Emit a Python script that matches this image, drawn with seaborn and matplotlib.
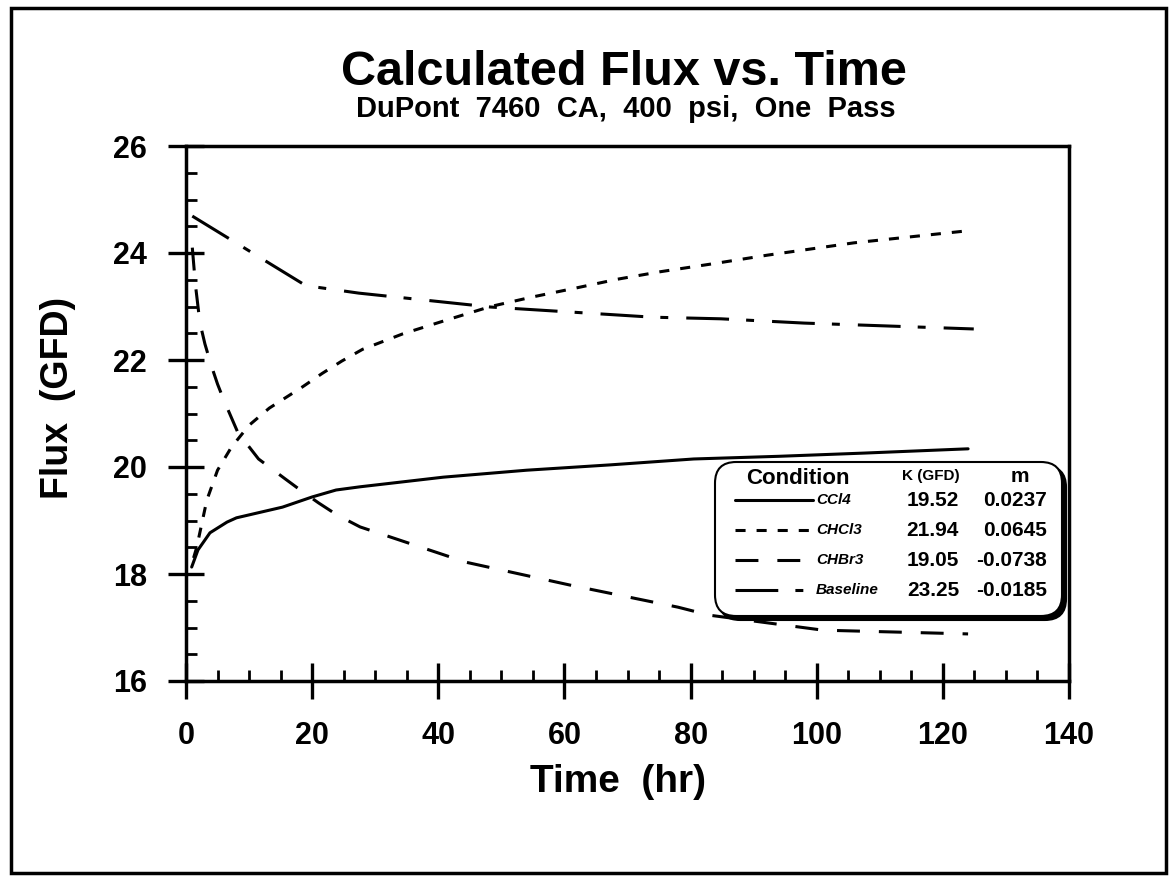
import numpy as np
import pandas as pd
import matplotlib.pyplot as plt
import seaborn as sns
from matplotlib.patches import FancyBboxPatch, Rectangle
from matplotlib.lines import Line2D
from matplotlib.ticker import MultipleLocator

# ===== data =====
conditions = ["CCl4", "CHCl3", "CHBr3", "Baseline"]
k_values = ["19.52", "21.94", "19.05", "23.25"]
m_values = ["0.0237", "0.0645", "-0.0738", "-0.0185"]

t_ccl4 = [0.9, 1.9, 3.8, 6.5, 8.0, 15.3, 20.0, 23.8, 27.6, 40.8, 54.0, 67.3, 80.5, 94.0, 107.5, 124.0]
f_ccl4 = [18.13, 18.45, 18.77, 18.97, 19.05, 19.25, 19.44, 19.57, 19.63, 19.81, 19.94, 20.04, 20.15, 20.2, 20.26, 20.34]

t_chcl3 = [1.2, 1.7, 3.3, 5.0, 7.2, 10.0, 13.2, 18.5, 21.6, 24.7, 28.0, 34.4, 41.4, 48.3,
           55.0, 62.0, 68.4, 75.2, 83.6, 92.2, 105.9, 123.5]
f_chcl3 = [18.3, 18.5, 19.38, 19.94, 20.37, 20.78, 21.1, 21.5, 21.75, 21.98, 22.2, 22.49, 22.75, 23.0,
           23.18, 23.35, 23.51, 23.65, 23.8, 23.96, 24.19, 24.41]

t_chbr3 = [1.0, 1.5, 2.0, 2.5, 3.0, 4.0, 5.0, 6.0, 8.2, 11.5, 15.7, 18.0, 21.0, 24.0, 27.6,
           44.4, 61.0, 78.0, 83.0, 101.0, 124.0]
f_chbr3 = [24.1, 23.4, 22.9, 22.55, 22.3, 21.9, 21.55, 21.25, 20.65, 20.15, 19.78, 19.58, 19.33, 19.1, 18.88,
           18.22, 17.79, 17.38, 17.23, 16.95, 16.88]

t_base = [1.0, 19.0, 27.4, 48.3, 60.5, 74.0, 84.8, 98.0, 124.9]
f_base = [24.69, 23.39, 23.25, 22.99, 22.9, 22.8, 22.77, 22.69, 22.58]

df = pd.concat([
    pd.DataFrame({"Time": t_ccl4, "Flux": f_ccl4, "Condition": "CCl4"}),
    pd.DataFrame({"Time": t_chcl3, "Flux": f_chcl3, "Condition": "CHCl3"}),
    pd.DataFrame({"Time": t_chbr3, "Flux": f_chbr3, "Condition": "CHBr3"}),
    pd.DataFrame({"Time": t_base, "Flux": f_base, "Condition": "Baseline"}),
], ignore_index=True)

# line styles (in linewidth units)
dash_map = {"CCl4": "", "CHCl3": (3.3, 3.6), "CHBr3": (7.5, 6.2), "Baseline": (14, 5.6, 2.6, 5.9)}
LW = 2.2

sns.set_theme(style="ticks")
plt.rcParams['font.family'] = ['Liberation Sans', 'DejaVu Sans']
plt.rcParams['font.weight'] = 'bold'
plt.rcParams['text.color'] = 'black'
plt.rcParams['xtick.color'] = 'black'
plt.rcParams['ytick.color'] = 'black'

W, H = 1174, 882
fig = plt.figure(figsize=(W / 100, H / 100), dpi=100)
ax = fig.add_axes([186 / W, 1 - 681 / H, 883 / W, 535 / H])

sns.lineplot(data=df, x="Time", y="Flux", hue="Condition", style="Condition",
             palette={c: "black" for c in conditions}, dashes=dash_map,
             estimator=None, sort=False, legend=False, linewidth=LW, ax=ax)

ax.set_xlim(0, 140)
ax.set_ylim(16, 26)
ax.xaxis.set_major_locator(MultipleLocator(20))
ax.xaxis.set_minor_locator(MultipleLocator(5))
ax.yaxis.set_major_locator(MultipleLocator(2))
ax.yaxis.set_minor_locator(MultipleLocator(0.5))
ax.set_xlabel("")
ax.set_ylabel("")
for s in ax.spines.values():
    s.set_linewidth(2.5)
    s.set_color("black")
ax.tick_params(which="major", direction="inout", length=26, width=2.4, labelsize=22)
ax.tick_params(which="minor", direction="in", length=8, width=2)
ax.tick_params(axis="x", which="major", pad=16)
ax.tick_params(axis="y", which="major", pad=15)

# ===== titles and axis labels =====
fig.text(624 / W, 1 - 85 / H, "Calculated Flux vs. Time", ha="center", va="baseline", fontsize=35)
fig.text(626 / W, 1 - 117 / H, "DuPont  7460  CA,  400  psi,  One  Pass", ha="center", va="baseline", fontsize=21)
fig.text(618 / W, 1 - 792 / H, "Time  (hr)", ha="center", va="baseline", fontsize=28)
fig.text(58 / W, 1 - 398 / H, "Flux  (GFD)", ha="center", va="center", rotation=90, fontsize=27)

# ===== legend box =====
def fx(px):
    return px / W


def fy(py):
    return 1 - py / H


bx0, by0, bx1, by1 = 715, 462, 1062, 616
for off, fc in [(4, "black"), (0, "white")]:
    box = FancyBboxPatch((fx(bx0 + off), fy(by1 + off)), fx(bx1) - fx(bx0), fy(by0) - fy(by1),
                         boxstyle="round,pad=0,rounding_size=0.018", mutation_aspect=W / H,
                         transform=fig.transFigure, facecolor=fc, edgecolor="black", linewidth=1.5,
                         zorder=5)
    fig.add_artist(box)

fig.text(fx(798), fy(478), "Condition", ha="center", va="center", fontsize=16, zorder=6)
fig.text(fx(931), fy(476), "K (GFD)", ha="center", va="center", fontsize=11, zorder=6)
fig.text(fx(1020), fy(476), "m", ha="center", va="center", fontsize=15, zorder=6)
row_y = [500, 530, 560, 590]
for cond, k, m, yy in zip(conditions, k_values, m_values, row_y):
    ls = "-" if dash_map[cond] == "" else (0, dash_map[cond])
    fig.add_artist(Line2D([fx(735), fx(813)], [fy(yy), fy(yy)], transform=fig.transFigure,
                          color="black", linewidth=LW, linestyle=ls, zorder=6))
    fig.text(fx(816), fy(yy), cond, ha="left", va="center", fontsize=11, style="italic", zorder=6)
    fig.text(fx(959), fy(yy), k, ha="right", va="center", fontsize=15, zorder=6)
    fig.text(fx(1047), fy(yy), m, ha="right", va="center", fontsize=15, zorder=6)

# frame around the whole figure
fig.add_artist(Rectangle((fx(11), fy(873)), fx(1166) - fx(11), fy(8) - fy(873), fill=False,
                         edgecolor="black", linewidth=2.5, transform=fig.transFigure))

fig.savefig("out.png", dpi=100)
